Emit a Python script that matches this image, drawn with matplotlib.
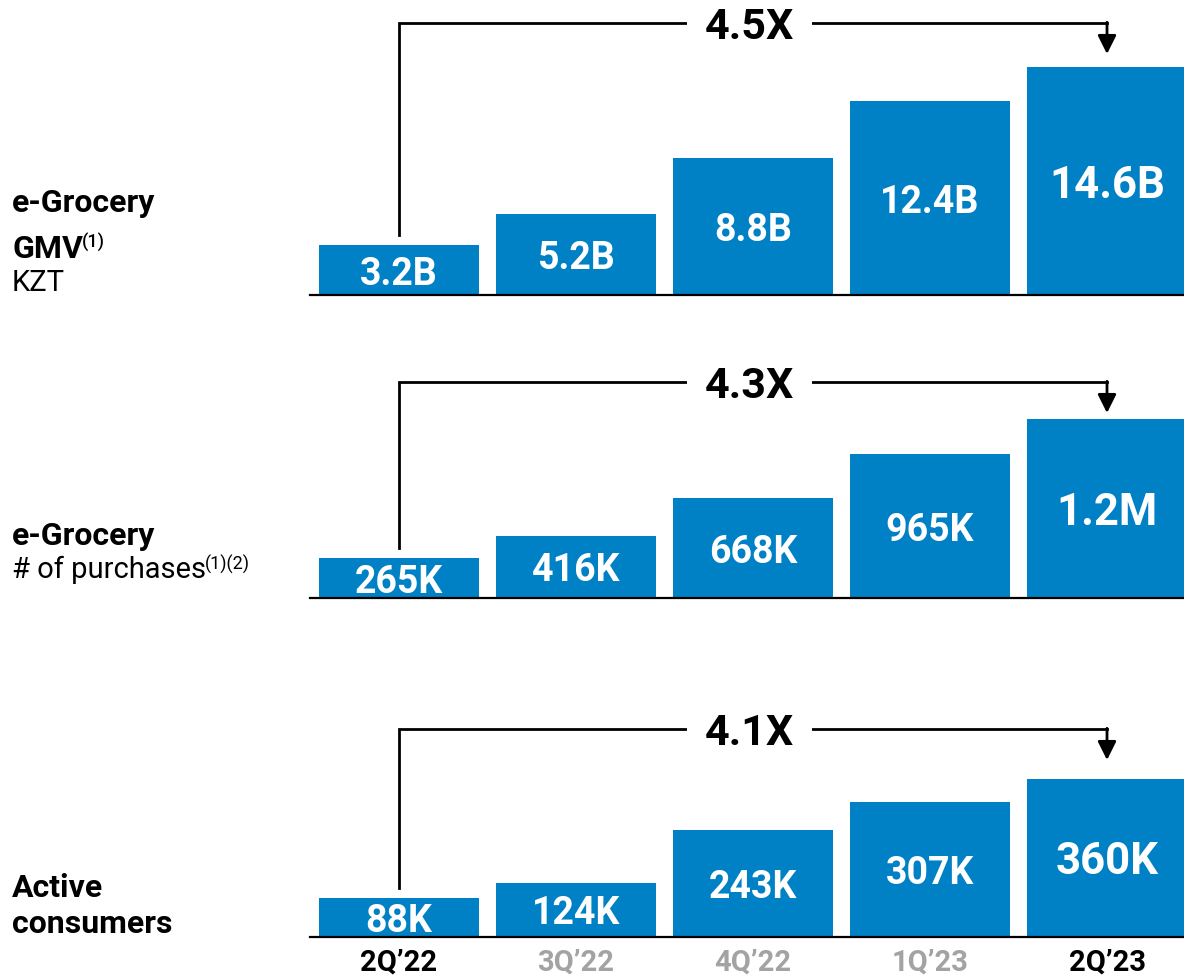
import matplotlib
matplotlib.use("Agg")
import matplotlib.pyplot as plt
import numpy as np

# ---- data -------------------------------------------------------------
quarters = ["2Q\u201922", "3Q\u201922", "4Q\u201922", "1Q\u201923", "2Q\u201923"]
gmv_bn = [3.2, 5.2, 8.8, 12.4, 14.6]
gmv_labels = ["3.2B", "5.2B", "8.8B", "12.4B", "14.6B"]
purchases_k = [265, 416, 668, 965, 1200]
purchases_labels = ["265K", "416K", "668K", "965K", "1.2M"]
consumers_k = [88, 124, 243, 307, 360]
consumers_labels = ["88K", "124K", "243K", "307K", "360K"]
growth_labels = ["4.5X", "4.3X", "4.1X"]

# ---- style ------------------------------------------------------------
W, H = 1184, 977
BAR = "#0081C6"
FONT = ["Roboto", "DejaVu Sans"]
plt.rcParams["font.family"] = FONT

fig = plt.figure(figsize=(W / 100, H / 100), dpi=100)


def fx(x):
    return x / W


def fy(y):
    return 1 - y / H


# panel layout in pixels: baseline, top of axes, bracket height above baseline,
# pixel height of the tallest bar
panels = [
    dict(vals=gmv_bn, labels=gmv_labels, base=295, top=0, bar_px=228, bracket_px=272),
    dict(vals=purchases_k, labels=purchases_labels, base=598, top=340, bar_px=179, bracket_px=216),
    dict(vals=consumers_k, labels=consumers_labels, base=937, top=680, bar_px=158, bracket_px=208),
]

x = np.arange(len(quarters))
AX_LEFT, AX_RIGHT = 310, 1184
xlim = (-0.503, 4.435)

axes = []
for i, p in enumerate(panels):
    h_px = p["base"] - p["top"]
    ax = fig.add_axes([fx(AX_LEFT), fy(p["base"]), (AX_RIGHT - AX_LEFT) / W, h_px / H])
    vals = np.asarray(p["vals"], dtype=float)
    ppu = p["bar_px"] / vals.max()          # pixels per data unit
    ylim_top = h_px / ppu
    ax.set_xlim(*xlim)
    ax.set_ylim(0, ylim_top)
    ax.bar(x, vals, width=0.905, color=BAR, zorder=2, clip_on=True)

    for s in ("top", "right", "left"):
        ax.spines[s].set_visible(False)
    ax.spines["bottom"].set_linewidth(1.6)
    ax.spines["bottom"].set_zorder(3)
    ax.set_yticks([])
    ax.tick_params(axis="x", length=0)
    ax.set_xticks(x)
    ax.set_xticklabels([])

    # value labels inside bars
    for j, (v, lab) in enumerate(zip(vals, p["labels"])):
        size = 31.5 if j == len(vals) - 1 else 27
        ax.text(j, v / 2, lab, ha="center", va="center_baseline", color="white",
                fontsize=size, fontweight="bold", zorder=4)

    # growth bracket from first to last bar
    yb = p["bracket_px"] / ppu
    y_start = vals[0] + 10 / ppu
    y_tip = yb - 31 / ppu
    ax.plot([x[0], x[0], x[-1]], [y_start, yb, yb], color="black", lw=2,
            solid_joinstyle="miter", clip_on=False, zorder=5)
    ax.annotate("", xy=(x[-1], y_tip), xytext=(x[-1], yb + 0.7 / ppu),
                arrowprops=dict(arrowstyle="-|>", color="black", lw=2,
                                mutation_scale=28, shrinkA=0, shrinkB=0),
                annotation_clip=False, zorder=5)
    ax.text(1.98, yb, growth_labels[i], ha="center", va="center_baseline",
            fontsize=31, fontweight="bold", color="black", zorder=6,
            bbox=dict(facecolor="white", edgecolor="none", pad=13))
    axes.append(ax)

# quarter labels under the bottom panel
tick_colors = ["black", "#A3A3A3", "#A3A3A3", "#A3A3A3", "black"]
axes[-1].set_xticklabels(quarters, fontsize=21, fontweight="bold")
axes[-1].tick_params(axis="x", pad=8)
for t, c in zip(axes[-1].get_xticklabels(), tick_colors):
    t.set_color(c)

# row titles on the left
LX = 12


def row_text(y, s, bold=False, sup=None):
    t = fig.text(fx(LX), fy(y), s, ha="left", va="baseline",
                 fontsize=23 if bold else 21,
                 fontweight="bold" if bold else "normal", color="black")
    if sup:
        fig.axes[0].annotate(sup, xy=(1, 1), xycoords=t, xytext=(-1, 1),
                             textcoords="offset points", ha="left", va="top",
                             fontsize=13, fontweight="medium" if bold else "normal",
                             color="black", annotation_clip=False)
    return t


row_text(212, "e-Grocery", bold=True)
row_text(258, "GMV", bold=True, sup="(1)")
row_text(291, "KZT")
row_text(545, "e-Grocery", bold=True)
row_text(578, "# of purchases", sup="(1)(2)")
row_text(897, "Active", bold=True)
row_text(933, "consumers", bold=True)

fig.savefig("out.png", dpi=100)
